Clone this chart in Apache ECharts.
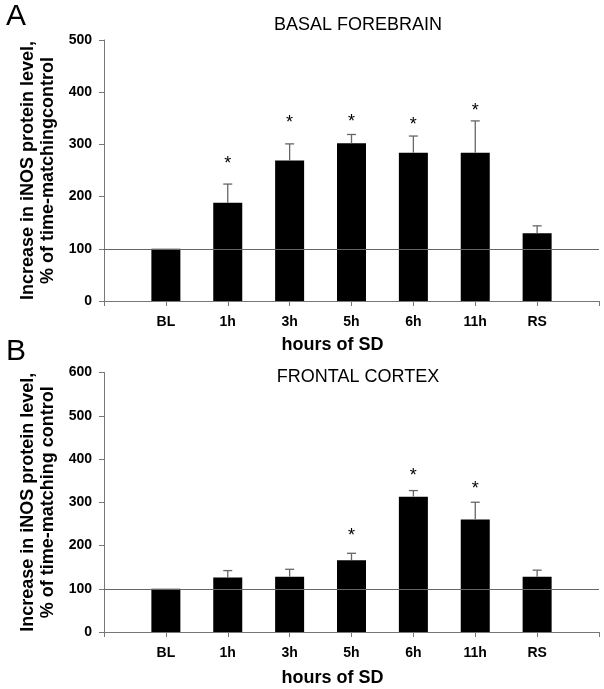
<!DOCTYPE html>
<html>
<head>
<meta charset="utf-8">
<script src="https://cdn.jsdelivr.net/npm/echarts@6/dist/echarts.min.js"></script>
<style>
html,body{margin:0;padding:0;background:#fff;}
#chart{width:604px;height:689px;}
</style>
</head>
<body>
<div id="chart"></div>
<script>
// ---- data ----
const categories = ['BL', '1h', '3h', '5h', '6h', '11h', 'RS'];
// Basal forebrain
const bfMean  = [100, 188, 269, 302, 284, 284, 130];
const bfUpper = [null, 224, 301, 319, 316, 345, 144];
const bfStar  = [null, 270, 348, 350, 344, 372, null];
// Frontal cortex
const fcMean  = [100, 126, 128, 166, 313, 260, 128];
const fcUpper = [null, 142, 145, 182, 327, 300, 143];
const fcStar  = [null, null, null, 230, 370, 340, null];
const yTicksTop = [0, 100, 200, 300, 400, 500];
const yTicksBottom = [0, 100, 200, 300, 400, 500, 600];

const FONT = 'Liberation Sans';
const axisData = [''].concat(categories).concat(['']);

function padded(arr) { return [null].concat(arr).concat([null]); }

function errData(mean, upper, star) {
  return categories.map((c, i) => [i + 1, mean[i], upper[i], star[i]]);
}

function renderErr(params, api) {
  const x = api.value(0);
  const upper = api.value(2);
  const star = api.value(3);
  const children = [];
  const base = api.coord([x, api.value(1)]);
  if (upper != null && !isNaN(upper)) {
    const top = api.coord([x, upper]);
    children.push({
      type: 'line',
      shape: { x1: base[0], y1: base[1], x2: top[0], y2: top[1] },
      style: { stroke: '#666', lineWidth: 1.3 }
    });
    children.push({
      type: 'line',
      shape: { x1: top[0] - 4.5, y1: top[1], x2: top[0] + 4.5, y2: top[1] },
      style: { stroke: '#666', lineWidth: 1.3 }
    });
  }
  if (star != null && !isNaN(star)) {
    const s = api.coord([x, star]);
    children.push({
      type: 'text',
      x: s[0], y: s[1] + 4,
      style: { text: '*', fill: '#000', font: '18px "' + FONT + '"', align: 'center', verticalAlign: 'middle' }
    });
  }
  return { type: 'group', children: children };
}

function yAxisCfg(gridIndex, ticks, nameLines) {
  return {
    type: 'value', gridIndex: gridIndex,
    min: ticks[0], max: ticks[ticks.length - 1], interval: ticks[1] - ticks[0],
    name: nameLines, nameLocation: 'middle', nameGap: 42, nameRotate: 90,
    nameTextStyle: { fontFamily: FONT, fontWeight: 'bold', fontSize: 18, color: '#000', lineHeight: 20 },
    axisLine: { show: true, lineStyle: { color: '#777', width: 1 } },
    axisTick: { show: true, length: 5, lineStyle: { color: '#777' } },
    axisLabel: { fontFamily: FONT, fontWeight: 'bold', fontSize: 14, color: '#000', margin: 12 },
    splitLine: { show: false }
  };
}

function xAxisCfg(gridIndex, nameGap) {
  return {
    type: 'category', gridIndex: gridIndex, data: axisData, boundaryGap: false,
    name: 'hours of SD', nameLocation: 'middle', nameGap: nameGap,
    nameTextStyle: { fontFamily: FONT, fontWeight: 'bold', fontSize: 18, color: '#000', padding: [0, 38, 0, 0] },
    axisLine: { lineStyle: { color: '#777', width: 1 } },
    axisTick: { show: true, length: 5, interval: 0, lineStyle: { color: '#777' } },
    axisLabel: { fontFamily: FONT, fontWeight: 'bold', fontSize: 14, color: '#000', margin: 14, interval: 0 },
    splitLine: { show: false }
  };
}

const refLine = {
  silent: true, symbol: 'none',
  label: { show: false },
  lineStyle: { color: '#666', type: 'solid', width: 1.2 },
  data: [{ yAxis: 100 }]
};

const chart = echarts.init(document.getElementById('chart'), null, { renderer: 'canvas' });
chart.setOption({
  animation: false,
  backgroundColor: '#fff',
  title: [
    { text: 'A', left: 6, top: 2, padding: 0, textStyle: { fontFamily: FONT, fontWeight: 'normal', fontSize: 30, color: '#000' } },
    { text: 'BASAL FOREBRAIN', left: 358, top: 25, padding: 0, textAlign: 'center', textVerticalAlign: 'middle',
      textStyle: { fontFamily: FONT, fontWeight: 'normal', fontSize: 18, color: '#000' } },
    { text: 'B', left: 6, top: 337, padding: 0, textStyle: { fontFamily: FONT, fontWeight: 'normal', fontSize: 30, color: '#000' } },
    { text: 'FRONTAL CORTEX', left: 358, top: 377, padding: 0, textAlign: 'center', textVerticalAlign: 'middle',
      textStyle: { fontFamily: FONT, fontWeight: 'normal', fontSize: 18, color: '#000' } }
  ],
  grid: [
    { left: 104, right: 5, top: 40, height: 261 },
    { left: 104, right: 5, top: 372.5, height: 259.5 }
  ],
  xAxis: [xAxisCfg(0, 35), xAxisCfg(1, 37)],
  yAxis: [
    yAxisCfg(0, yTicksTop, 'Increase in iNOS protein level,\n% of time-matchingcontrol'),
    yAxisCfg(1, yTicksBottom, 'Increase in iNOS protein level,\n% of time-matching control')
  ],
  series: [
    { type: 'bar', xAxisIndex: 0, yAxisIndex: 0, data: padded(bfMean), barWidth: 29,
      itemStyle: { color: '#000' }, markLine: refLine, z: 2 },
    { type: 'custom', xAxisIndex: 0, yAxisIndex: 0, data: errData(bfMean, bfUpper, bfStar),
      renderItem: renderErr, z: 3, encode: { x: 0, y: 2 } },
    { type: 'bar', xAxisIndex: 1, yAxisIndex: 1, data: padded(fcMean), barWidth: 29,
      itemStyle: { color: '#000' }, markLine: refLine, z: 2 },
    { type: 'custom', xAxisIndex: 1, yAxisIndex: 1, data: errData(fcMean, fcUpper, fcStar),
      renderItem: renderErr, z: 3, encode: { x: 0, y: 2 } }
  ]
});
</script>
</body>
</html>
